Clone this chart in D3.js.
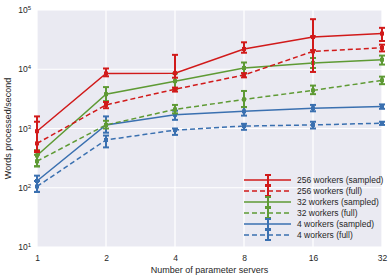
<!DOCTYPE html>
<html>
<head>
<meta charset="utf-8">
<script src="https://cdn.jsdelivr.net/npm/d3@7"></script>
<style>
  body { margin: 0; background: #fff; }
  text { font-family: "Liberation Sans", Arial, sans-serif; fill: #262626; }
</style>
</head>
<body>
<svg id="chart" width="391" height="277"></svg>
<script>
var servers = [1, 2, 4, 8, 16, 32];
var yTicks = [10, 100, 1000, 10000, 100000];
var seriesNames = ['256 workers (sampled)', '256 workers (full)', '32 workers (sampled)', '32 workers (full)', '4 workers (sampled)', '4 workers (full)'];
var seriesColors = ['#d11a1a', '#d11a1a', '#5e9a34', '#5e9a34', '#3a70b0', '#3a70b0'];
var seriesDashed = [false, true, false, true, false, true];

var w256s = [900, 8500, 8600, 22000, 35000, 40000];
var w256sLo = [400, 7600, 7200, 19000, 21000, 30000];
var w256sHi = [1600, 10300, 17500, 28500, 70000, 50000];
var w256f = [560, 2500, 4600, 8000, 20000, 23000];
var w256fLo = [420, 2200, 4200, 7300, 9000, 20000];
var w256fHi = [1300, 2800, 4900, 8600, 36000, 26000];
var w32s = [350, 3800, 6300, 10500, 12800, 14500];
var w32sLo = [230, 2900, 4600, 8500, 10500, 12000];
var w32sHi = [430, 5000, 8500, 13000, 15500, 17000];
var w32f = [280, 1150, 2100, 3100, 4400, 6500];
var w32fLo = [230, 1000, 1800, 2300, 3800, 5600];
var w32fHi = [360, 1350, 2500, 4300, 5300, 7500];
var w4s = [130, 1150, 1700, 1950, 2200, 2350];
var w4sLo = [85, 850, 1400, 1650, 1950, 2150];
var w4sHi = [160, 1600, 2000, 2300, 2500, 2550];
var w4f = [105, 640, 940, 1100, 1150, 1230];
var w4fLo = [85, 480, 780, 950, 1000, 1150];
var w4fHi = [130, 760, 1000, 1200, 1300, 1300];

var vals = [w256s, w256f, w32s, w32f, w4s, w4f];
var los = [w256sLo, w256fLo, w32sLo, w32fLo, w4sLo, w4fLo];
var his = [w256sHi, w256fHi, w32sHi, w32fHi, w4sHi, w4fHi];

var svg = d3.select('#chart');
var margin = {left: 37, right: 9, top: 10, bottom: 30};
var width = 391 - margin.left - margin.right;
var height = 277 - margin.top - margin.bottom;

var x = d3.scaleLog().base(2).domain([1, 32]).range([0, width]);
var y = d3.scaleLog().domain([10, 100000]).range([height, 0]);

var g = svg.append('g').attr('transform', 'translate(' + margin.left + ',' + margin.top + ')');
g.append('rect').attr('width', width).attr('height', height).attr('fill', '#eaeaf2');

// grid
g.selectAll('line.gx').data(servers).enter().append('line').attr('class', 'gx')
  .attr('x1', function(d) { return x(d); }).attr('x2', function(d) { return x(d); })
  .attr('y1', 0).attr('y2', height).attr('stroke', '#fff').attr('stroke-width', 1.2);
g.selectAll('line.gy').data(yTicks).enter().append('line').attr('class', 'gy')
  .attr('y1', function(d) { return y(d); }).attr('y2', function(d) { return y(d); })
  .attr('x1', 0).attr('x2', width).attr('stroke', '#fff').attr('stroke-width', 1.2);

// axes
var xAxis = d3.axisBottom(x).tickValues(servers).tickSize(0).tickPadding(8).tickFormat(d3.format('d'));
var xg = g.append('g').attr('transform', 'translate(0,' + height + ')').call(xAxis);
xg.select('.domain').remove();
xg.selectAll('text').style('font-size', '8.5px').attr('fill', '#262626');

var yAxis = d3.axisLeft(y).tickValues(yTicks).tickSize(0).tickPadding(6).tickFormat('');
var yg = g.append('g').call(yAxis);
yg.select('.domain').remove();
yg.selectAll('.tick').each(function(d) {
  var t = d3.select(this).append('text').attr('x', -6).attr('dy', '0.32em')
    .attr('text-anchor', 'end').style('font-size', '8.5px');
  t.append('tspan').text('10');
  t.append('tspan').attr('dy', '-0.5em').style('font-size', '6px').text(Math.round(Math.log10(d)));
});

svg.append('text').attr('x', margin.left + width / 2).attr('y', 273).attr('text-anchor', 'middle')
  .style('font-size', '9px').text('Number of parameter servers');
svg.append('text').attr('transform', 'translate(11,' + (margin.top + height / 2) + ') rotate(-90)')
  .attr('text-anchor', 'middle').style('font-size', '9px').text('Words processed/second');

// error bars + lines
function drawErr(sel, cx, yl, yh, color) {
  sel.append('line').attr('x1', cx).attr('x2', cx).attr('y1', yl).attr('y2', yh)
    .attr('stroke', color).attr('stroke-width', 2);
  [yl, yh].forEach(function(v) {
    sel.append('line').attr('x1', cx - 3).attr('x2', cx + 3).attr('y1', v).attr('y2', v)
      .attr('stroke', color).attr('stroke-width', 2);
  });
}

var line = d3.line().x(function(d) { return x(d[0]); }).y(function(d) { return y(d[1]); });

for (var i = vals.length - 1; i >= 0; i--) {
  var col = seriesColors[i];
  var sg = g.append('g');
  var pts = servers.map(function(s, j) { return [s, vals[i][j]]; });
  sg.append('path').datum(pts).attr('d', line).attr('fill', 'none').attr('stroke', col)
    .attr('stroke-width', 1.5).attr('stroke-dasharray', seriesDashed[i] ? '5,3' : null);
  for (var j = 0; j < servers.length; j++) {
    drawErr(sg, x(servers[j]), y(los[i][j]), y(his[i][j]), col);
    sg.append('rect').attr('x', x(servers[j]) - 2).attr('y', y(vals[i][j]) - 2)
      .attr('width', 4).attr('height', 4).attr('fill', col);
  }
}

// legend
var lg = g.append('g').attr('transform', 'translate(' + (x(8)) + ',' + 170 + ')');
seriesNames.forEach(function(name, i) {
  var row = lg.append('g').attr('transform', 'translate(0,' + (i * 11) + ')');
  row.append('line').attr('x1', 0).attr('x2', 47).attr('y1', 0).attr('y2', 0)
    .attr('stroke', seriesColors[i]).attr('stroke-width', 1.5)
    .attr('stroke-dasharray', seriesDashed[i] ? '5,3' : null);
  drawErr(row, 24, -5, 5, seriesColors[i]);
  row.append('text').attr('x', 53).attr('dy', '0.32em').style('font-size', '8.5px').text(name);
});
</script>
</body>
</html>
